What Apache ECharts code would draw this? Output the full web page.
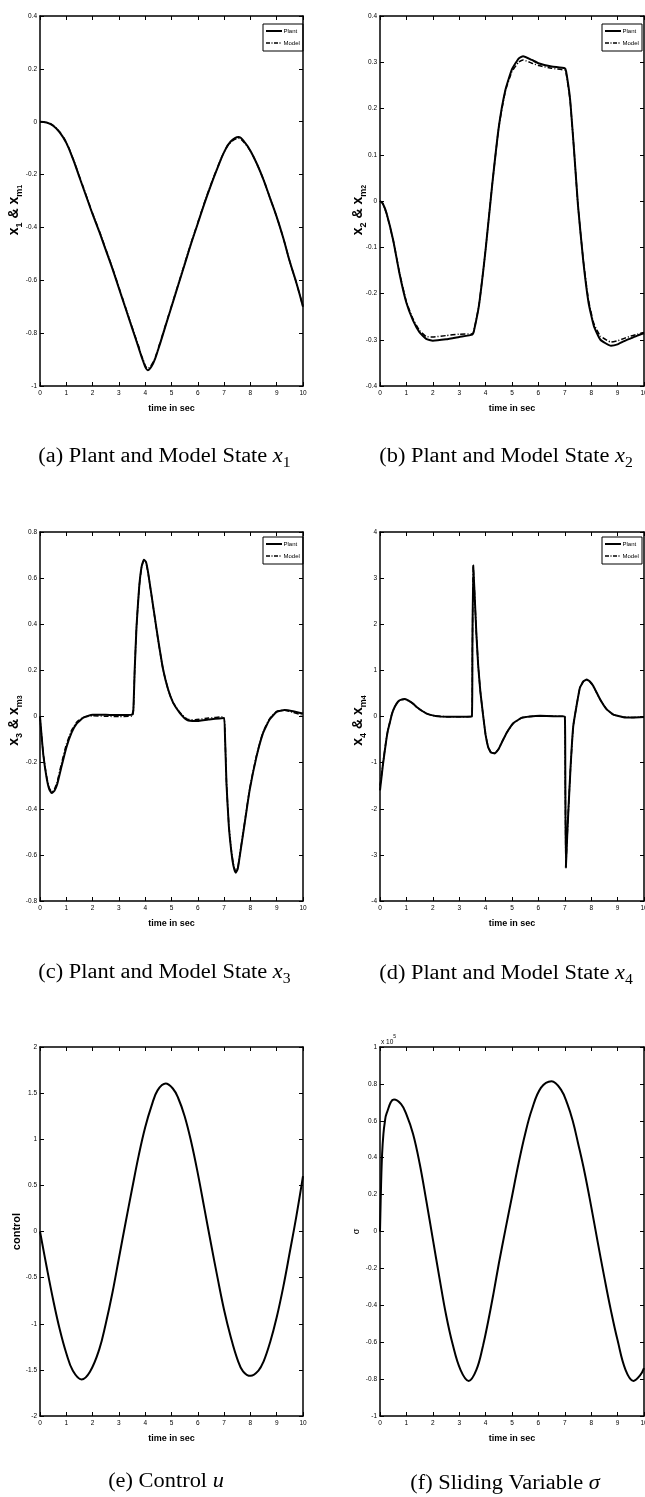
<!DOCTYPE html>
<html>
<head>
<meta charset="utf-8">
<title>Plant and Model States</title>
<script src="https://cdn.jsdelivr.net/npm/echarts@6.0.0/dist/echarts.min.js"></script>
<style>
  html, body { margin: 0; padding: 0; background: #fff; }
  #main { width: 645px; height: 1497px; }
</style>
</head>
<body>
<div id="main"></div>
<script>
  // tick values of each axis
  var timeTicks = [0, 1, 2, 3, 4, 5, 6, 7, 8, 9, 10];
  var x1Ticks = [-1, -0.8, -0.6, -0.4, -0.2, 0, 0.2, 0.4];
  var x2Ticks = [-0.4, -0.3, -0.2, -0.1, 0, 0.1, 0.2, 0.3, 0.4];
  var x3Ticks = [-0.8, -0.6, -0.4, -0.2, 0, 0.2, 0.4, 0.6, 0.8];
  var x4Ticks = [-4, -3, -2, -1, 0, 1, 2, 3, 4];
  var uTicks = [-2, -1.5, -1, -0.5, 0, 0.5, 1, 1.5, 2];
  var sigmaTicks = [-1, -0.8, -0.6, -0.4, -0.2, 0, 0.2, 0.4, 0.6, 0.8, 1];

  var legendNames = ['Plant', 'Model'];
  var xTitle = 'time in sec';

  // [time, value]
  var x1Plant = [[0, 0], [0.25, -0.003], [0.5, -0.015], [0.75, -0.04], [1, -0.08], [1.25, -0.14], [1.5, -0.21], [1.75, -0.28], [2, -0.35], [2.25, -0.415], [2.5, -0.485], [2.75, -0.555], [3, -0.63], [3.25, -0.705], [3.5, -0.78], [3.75, -0.855], [3.9, -0.9], [4.1, -0.94], [4.3, -0.915], [4.5, -0.86], [4.75, -0.78], [5, -0.7], [5.25, -0.62], [5.5, -0.54], [5.75, -0.46], [6, -0.385], [6.25, -0.31], [6.5, -0.24], [6.75, -0.175], [7, -0.115], [7.25, -0.075], [7.55, -0.058], [7.8, -0.08], [8, -0.11], [8.25, -0.16], [8.5, -0.22], [8.75, -0.29], [9, -0.36], [9.25, -0.44], [9.5, -0.53], [9.75, -0.61], [10, -0.7]];
  var x1Model = [[0, 0], [0.25, -0.003], [0.5, -0.014], [0.75, -0.039], [1, -0.078], [1.25, -0.138], [1.5, -0.207], [1.75, -0.277], [2, -0.347], [2.25, -0.412], [2.5, -0.482], [2.75, -0.552], [3, -0.627], [3.25, -0.702], [3.5, -0.777], [3.75, -0.85], [3.9, -0.895], [4.1, -0.933], [4.3, -0.91], [4.5, -0.856], [4.75, -0.777], [5, -0.697], [5.25, -0.617], [5.5, -0.537], [5.75, -0.457], [6, -0.382], [6.25, -0.307], [6.5, -0.237], [6.75, -0.173], [7, -0.115], [7.25, -0.078], [7.55, -0.063], [7.8, -0.083], [8, -0.112], [8.25, -0.16], [8.5, -0.22], [8.75, -0.29], [9, -0.36], [9.25, -0.44], [9.5, -0.53], [9.75, -0.61], [10, -0.7]];

  var x2Plant = [[0, 0], [0.1, -0.005], [0.25, -0.027], [0.5, -0.085], [0.75, -0.16], [1, -0.22], [1.25, -0.258], [1.5, -0.284], [1.75, -0.298], [2, -0.302], [2.5, -0.299], [3, -0.294], [3.5, -0.289], [3.55, -0.283], [3.75, -0.225], [4, -0.105], [4.25, 0.035], [4.5, 0.16], [4.75, 0.24], [5, 0.285], [5.25, 0.308], [5.42, 0.313], [5.75, 0.305], [6, 0.298], [6.5, 0.291], [7, 0.287], [7.05, 0.28], [7.2, 0.22], [7.35, 0.11], [7.5, -0.01], [7.7, -0.13], [7.9, -0.22], [8.1, -0.27], [8.35, -0.3], [8.75, -0.313], [9, -0.31], [9.25, -0.303], [9.5, -0.297], [9.75, -0.291], [10, -0.286]];
  var x2Model = [[0, 0], [0.1, -0.005], [0.25, -0.027], [0.5, -0.085], [0.75, -0.158], [1, -0.218], [1.25, -0.255], [1.5, -0.28], [1.75, -0.293], [2, -0.294], [2.5, -0.291], [3, -0.288], [3.5, -0.287], [3.55, -0.282], [3.75, -0.225], [4, -0.105], [4.25, 0.035], [4.5, 0.16], [4.75, 0.238], [5, 0.28], [5.25, 0.3], [5.42, 0.305], [5.75, 0.298], [6, 0.293], [6.5, 0.287], [7, 0.283], [7.05, 0.277], [7.2, 0.218], [7.35, 0.11], [7.5, -0.01], [7.7, -0.128], [7.9, -0.215], [8.1, -0.265], [8.35, -0.292], [8.75, -0.305], [9, -0.302], [9.25, -0.297], [9.5, -0.292], [9.75, -0.288], [10, -0.284]];

  var x3Plant = [[0, 0], [0.05, -0.07], [0.13, -0.17], [0.25, -0.265], [0.35, -0.315], [0.45, -0.332], [0.55, -0.322], [0.65, -0.295], [0.8, -0.225], [1, -0.135], [1.2, -0.07], [1.4, -0.03], [1.65, -0.005], [2, 0.008], [2.5, 0.008], [3, 0.006], [3.5, 0.008], [3.55, 0.03], [3.6, 0.2], [3.67, 0.39], [3.77, 0.56], [3.86, 0.648], [3.95, 0.68], [4.03, 0.67], [4.11, 0.625], [4.3, 0.48], [4.49, 0.335], [4.68, 0.205], [4.87, 0.118], [5.06, 0.06], [5.32, 0.015], [5.6, -0.016], [5.9, -0.02], [6.4, -0.013], [6.98, -0.006], [7.03, -0.07], [7.09, -0.29], [7.18, -0.475], [7.28, -0.59], [7.36, -0.65], [7.44, -0.677], [7.52, -0.66], [7.59, -0.61], [7.78, -0.465], [7.97, -0.32], [8.23, -0.175], [8.48, -0.072], [8.73, -0.013], [9, 0.02], [9.3, 0.028], [9.62, 0.023], [10, 0.013]];
  var x3Model = [[0, 0], [0.05, -0.07], [0.13, -0.168], [0.25, -0.26], [0.35, -0.31], [0.45, -0.326], [0.55, -0.315], [0.65, -0.285], [0.8, -0.212], [1, -0.122], [1.2, -0.06], [1.4, -0.024], [1.65, -0.004], [2, 0.003], [2.5, 0.001], [3, 0], [3.5, 0.002], [3.55, 0.025], [3.6, 0.2], [3.67, 0.39], [3.77, 0.56], [3.86, 0.646], [3.95, 0.676], [4.03, 0.667], [4.11, 0.622], [4.3, 0.478], [4.49, 0.333], [4.68, 0.203], [4.87, 0.117], [5.06, 0.06], [5.32, 0.017], [5.6, -0.012], [5.9, -0.014], [6.4, -0.007], [6.98, -0.001], [7.03, -0.065], [7.09, -0.285], [7.18, -0.47], [7.28, -0.585], [7.36, -0.645], [7.44, -0.672], [7.52, -0.655], [7.59, -0.605], [7.78, -0.46], [7.97, -0.315], [8.23, -0.17], [8.48, -0.068], [8.73, -0.01], [9, 0.022], [9.3, 0.027], [9.62, 0.018], [10, 0.004]];

  var x4Plant = [[0, -1.6], [0.05, -1.35], [0.11, -1.05], [0.18, -0.75], [0.24, -0.5], [0.3, -0.3], [0.37, -0.14], [0.45, 0.05], [0.55, 0.2], [0.68, 0.32], [0.8, 0.365], [0.94, 0.38], [1.1, 0.34], [1.25, 0.28], [1.4, 0.2], [1.57, 0.13], [1.75, 0.07], [1.88, 0.04], [2.1, 0.01], [2.3, 0], [2.8, -0.007], [3.48, 0], [3.5, 1.5], [3.53, 3.28], [3.58, 2.7], [3.65, 1.8], [3.72, 1.1], [3.8, 0.55], [3.9, 0.05], [4, -0.4], [4.1, -0.67], [4.2, -0.78], [4.35, -0.8], [4.5, -0.7], [4.65, -0.52], [4.8, -0.35], [5.04, -0.15], [5.36, -0.03], [5.68, 0], [6.06, 0.015], [6.56, 0.007], [7, 0], [7.02, -1.5], [7.04, -3.28], [7.09, -2.6], [7.13, -2.1], [7.22, -1.08], [7.32, -0.21], [7.45, 0.25], [7.57, 0.62], [7.7, 0.76], [7.83, 0.8], [7.95, 0.76], [8.08, 0.66], [8.33, 0.38], [8.58, 0.16], [8.84, 0.04], [9.22, -0.014], [9.6, -0.02], [10, -0.01]];
  var x4Model = [[0, -1.5], [0.05, -1.3], [0.11, -1.02], [0.18, -0.73], [0.24, -0.49], [0.3, -0.29], [0.37, -0.13], [0.45, 0.06], [0.55, 0.2], [0.68, 0.32], [0.8, 0.36], [0.94, 0.375], [1.1, 0.335], [1.25, 0.275], [1.4, 0.2], [1.57, 0.13], [1.75, 0.07], [1.88, 0.04], [2.1, 0.01], [2.3, 0], [2.8, -0.007], [3.48, 0], [3.5, 1.5], [3.53, 3.26], [3.58, 2.7], [3.65, 1.8], [3.72, 1.1], [3.8, 0.55], [3.9, 0.05], [4, -0.4], [4.1, -0.665], [4.2, -0.775], [4.35, -0.795], [4.5, -0.695], [4.65, -0.52], [4.8, -0.35], [5.04, -0.15], [5.36, -0.03], [5.68, 0], [6.06, 0.015], [6.56, 0.007], [7, 0], [7.02, -1.5], [7.04, -3.26], [7.09, -2.6], [7.13, -2.1], [7.22, -1.08], [7.32, -0.21], [7.45, 0.25], [7.57, 0.62], [7.7, 0.755], [7.83, 0.795], [7.95, 0.755], [8.08, 0.655], [8.33, 0.375], [8.58, 0.16], [8.84, 0.04], [9.22, -0.014], [9.6, -0.02], [10, -0.01]];

  var control = [[0, 0], [0.25, -0.38], [0.5, -0.74], [0.75, -1.06], [1, -1.32], [1.25, -1.51], [1.58, -1.604], [1.9, -1.52], [2.25, -1.28], [2.5, -1], [2.75, -0.67], [3, -0.29], [3.25, 0.09], [3.5, 0.46], [3.75, 0.82], [4, 1.13], [4.25, 1.37], [4.47, 1.53], [4.78, 1.604], [5.05, 1.55], [5.25, 1.45], [5.5, 1.25], [5.75, 0.97], [6, 0.63], [6.25, 0.25], [6.5, -0.13], [6.75, -0.5], [7, -0.85], [7.25, -1.14], [7.5, -1.38], [7.72, -1.515], [8.01, -1.565], [8.3, -1.51], [8.5, -1.41], [8.75, -1.2], [9, -0.93], [9.25, -0.6], [9.5, -0.22], [9.75, 0.17], [10, 0.6]];

  // sigma in units of 1e5
  var sigma = [[0, 0], [0.04, 0.25], [0.08, 0.42], [0.13, 0.53], [0.18, 0.59], [0.25, 0.64], [0.53, 0.715], [0.8, 0.69], [1, 0.635], [1.25, 0.53], [1.5, 0.37], [1.75, 0.17], [2, -0.04], [2.25, -0.25], [2.5, -0.45], [2.75, -0.61], [3.05, -0.75], [3.36, -0.81], [3.65, -0.75], [3.9, -0.62], [4.1, -0.485], [4.3, -0.335], [4.5, -0.175], [4.75, 0.01], [5, 0.19], [5.25, 0.37], [5.5, 0.53], [5.75, 0.66], [6.1, 0.78], [6.5, 0.815], [6.85, 0.77], [7.1, 0.69], [7.3, 0.6], [7.5, 0.48], [7.75, 0.32], [8, 0.135], [8.25, -0.06], [8.5, -0.25], [8.75, -0.43], [9, -0.59], [9.3, -0.75], [9.6, -0.81], [9.85, -0.78], [10, -0.74]];

  var captions = [
    '{t|(a) Plant and Model State }{i|x}{n|1}',
    '{t|(b) Plant and Model State }{i|x}{n|2}',
    '{t|(c) Plant and Model State }{i|x}{n|3}',
    '{t|(d) Plant and Model State }{i|x}{n|4}',
    '{t|(e) Control }{i|u}',
    '{t|(f) Sliding Variable }{i|σ}'
  ];

  var tickFont = "'Liberation Sans', Arial, sans-serif";
  var serifFont = "'Liberation Serif', 'DejaVu Serif', serif";

  function step(ticks) {
    return Math.round((ticks[1] - ticks[0]) * 1e6) / 1e6;
  }

  var nameRich = {
    x: {fontSize: 14, fontWeight: 'bold', fontFamily: tickFont, color: '#000', lineHeight: 19},
    s: {fontSize: 9, fontWeight: 'bold', fontFamily: tickFont, color: '#000', lineHeight: 8, verticalAlign: 'bottom'},
    ss: {fontSize: 7, fontWeight: 'bold', fontFamily: tickFont, color: '#000', lineHeight: 4, verticalAlign: 'bottom'},
    w: {fontSize: 11, fontWeight: 'bold', fontFamily: tickFont, color: '#000', lineHeight: 14},
    g: {fontSize: 9, fontFamily: tickFont, color: '#000', lineHeight: 12}
  };

  var plantLine = {color: '#000', width: 2, type: 'solid'};
  var modelLine = {color: '#000', width: 1.5, type: [5, 2, 1, 2]};

  var panels = [
    {left: 40, top: 16, width: 263, height: 370, ticks: x1Ticks, name: '{x|x}{s|1}{x| & x}{s|m}{ss|1}', nameGap: 16, namePad: [0, 18, 0, 0],
      legend: [263, 24], smooth: 0.4,
      series: [['Model', x1Model, modelLine], ['Plant', x1Plant, plantLine]], caption: [164.5, 457]},
    {left: 380, top: 16, width: 264, height: 370, ticks: x2Ticks, name: '{x|x}{s|2}{x| & x}{s|m}{ss|2}', nameGap: 12, namePad: [0, 18, 0, 0],
      legend: [602, 24], smooth: 0.15,
      series: [['Model', x2Model, modelLine], ['Plant', x2Plant, plantLine]], caption: [506, 457]},
    {left: 40, top: 532, width: 263, height: 369, ticks: x3Ticks, name: '{x|x}{s|3}{x| & x}{s|m}{ss|3}', nameGap: 16, namePad: [0, 8, 0, 0],
      legend: [263, 537], smooth: 0.15,
      series: [['Model', x3Model, modelLine], ['Plant', x3Plant, plantLine]], caption: [164.5, 973]},
    {left: 380, top: 532, width: 264, height: 369, ticks: x4Ticks, name: '{x|x}{s|4}{x| & x}{s|m}{ss|4}', nameGap: 12, namePad: [0, 8, 0, 0],
      legend: [602, 537], smooth: 0.1,
      series: [['Model', x4Model, modelLine], ['Plant', x4Plant, plantLine]], caption: [506, 974]},
    {left: 40, top: 1047, width: 263, height: 369, ticks: uTicks, name: '{w|control}', nameGap: 16, namePad: 0,
      legend: null, smooth: 0.4,
      series: [['control', control, plantLine]], caption: [166, 1482]},
    {left: 380, top: 1047, width: 264, height: 369, ticks: sigmaTicks, name: '{g|σ}', nameGap: 17, namePad: 0,
      legend: null, smooth: 0.4,
      series: [['sigma', sigma, plantLine]], caption: [505, 1484]}
  ];

  var myChart = echarts.init(document.getElementById('main'), null, {renderer: 'canvas'});

  var option = {
    animation: false,
    backgroundColor: '#fff',
    grid: [],
    xAxis: [],
    yAxis: [],
    series: [],
    graphic: []
  };

  var axisLine = {onZero: false, lineStyle: {color: '#000', width: 1.5}};
  var axisTick = {inside: true, length: 4, lineStyle: {color: '#000', width: 1}};
  var tickLabel = {color: '#000', fontSize: 6.5, fontFamily: tickFont};

  panels.forEach(function (p, i) {
    option.grid.push({left: p.left, top: p.top, width: p.width, height: p.height, outerBoundsMode: 'none', containLabel: false});

    var xBase = {
      type: 'value', gridIndex: i,
      min: timeTicks[0], max: timeTicks[timeTicks.length - 1], interval: step(timeTicks),
      axisLine: axisLine, axisTick: axisTick, splitLine: {show: false}
    };
    option.xAxis.push(Object.assign({}, xBase, {
      position: 'bottom',
      name: xTitle, nameLocation: 'middle', nameGap: 18, nameMoveOverlap: false,
      nameTextStyle: {color: '#000', fontSize: 9, fontWeight: 'bold', fontFamily: tickFont, verticalAlign: 'top'},
      axisLabel: Object.assign({margin: 4, alignMinLabel: 'center', alignMaxLabel: 'center'}, tickLabel)
    }));
    option.xAxis.push(Object.assign({}, xBase, {position: 'top', axisLabel: {show: false}}));

    var yBase = {
      type: 'value', gridIndex: i,
      min: p.ticks[0], max: p.ticks[p.ticks.length - 1], interval: step(p.ticks),
      axisLine: axisLine, axisTick: axisTick, splitLine: {show: false}
    };
    option.yAxis.push(Object.assign({}, yBase, {
      position: 'left',
      name: p.name, nameLocation: 'middle', nameRotate: 90, nameGap: p.nameGap, nameMoveOverlap: false,
      nameTextStyle: {rich: nameRich, padding: p.namePad},
      axisLabel: Object.assign({margin: 3}, tickLabel)
    }));
    option.yAxis.push(Object.assign({}, yBase, {position: 'right', axisLabel: {show: false}}));

    p.series.forEach(function (s) {
      option.series.push({
        type: 'line', name: s[0],
        xAxisIndex: 2 * i, yAxisIndex: 2 * i,
        data: s[1], symbol: 'none', showSymbol: false,
        smooth: p.smooth,
        lineStyle: s[2], itemStyle: {color: '#000'},
        emphasis: {disabled: true}
      });
    });

    // boxed legend in the upper right corner, as drawn by matlab
    if (p.legend) {
      var rows = [plantLine, modelLine];
      var children = [{
        type: 'rect', shape: {x: 0, y: 0, width: 40, height: 27},
        style: {fill: '#fff', stroke: '#000', lineWidth: 1}
      }];
      legendNames.forEach(function (n, k) {
        var yy = 7 + k * 12;
        children.push({
          type: 'line', shape: {x1: 3, y1: yy, x2: 19, y2: yy},
          style: {stroke: '#000', lineWidth: rows[k].width, lineDash: k === 0 ? null : [4, 1.5, 1, 1.5]}
        });
        children.push({
          type: 'text', x: 20.5, y: yy,
          style: {text: n, fill: '#000', font: '6px ' + tickFont, align: 'left', verticalAlign: 'middle',
            textAlign: 'left', textVerticalAlign: 'middle'}
        });
      });
      option.graphic.push({type: 'group', x: p.legend[0], y: p.legend[1], z: 100, children: children});
    }

    option.graphic.push({
      type: 'text', x: p.caption[0], y: p.caption[1], scaleX: 1.12,
      style: {
        text: captions[i],
        align: 'center', verticalAlign: 'middle',
        textAlign: 'center', textVerticalAlign: 'middle',
        rich: {
          t: {fontFamily: serifFont, fontSize: 20, fill: '#000', color: '#000', lineHeight: 26},
          i: {fontFamily: serifFont, fontSize: 20, fontStyle: 'italic', fill: '#000', color: '#000', lineHeight: 26},
          n: {fontFamily: serifFont, fontSize: 14, fill: '#000', color: '#000', lineHeight: 18, verticalAlign: 'bottom'}
        }
      }
    });
  });

  // exponent of the sigma axis
  option.graphic.push({
    type: 'text', x: 381, y: 1040,
    style: {
      text: '{a|x 10}{b|5}',
      align: 'left', verticalAlign: 'middle',
      textAlign: 'left', textVerticalAlign: 'middle',
      rich: {
        a: {fontFamily: tickFont, fontSize: 6.5, fill: '#000', color: '#000', lineHeight: 12, verticalAlign: 'bottom'},
        b: {fontFamily: tickFont, fontSize: 5, fill: '#000', color: '#000', lineHeight: 8, verticalAlign: 'top'}
      }
    }
  });

  myChart.setOption(option);
  window.onresize = function () {
    myChart.resize();
  };
</script>
</body>
</html>
